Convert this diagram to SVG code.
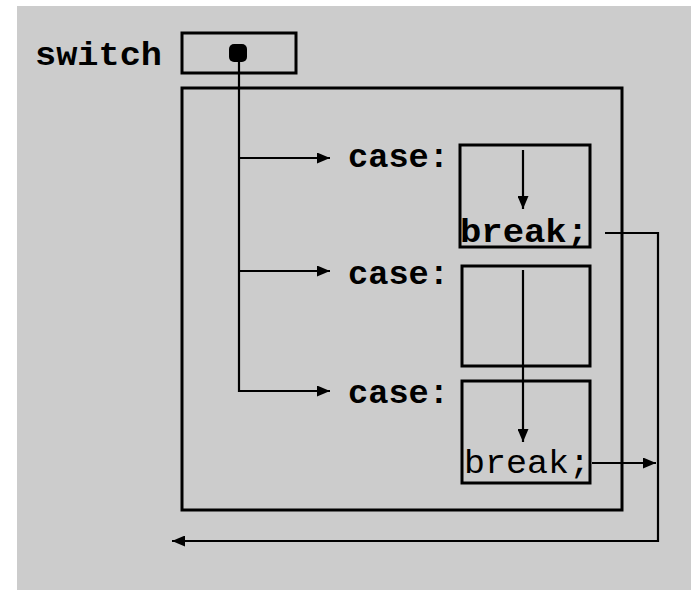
<svg xmlns="http://www.w3.org/2000/svg" width="691" height="590" viewBox="0 0 691 590">
<defs>
<style>
.box{fill:none;stroke:#000;stroke-width:3}
.ln{fill:none;stroke:#000;stroke-width:2.2}
.b{font-family:"Liberation Mono","Courier New",monospace;font-weight:bold;font-size:34px;fill:#000}
.r{font-family:"Liberation Mono","Courier New",monospace;font-size:34px;fill:#000}
</style>
<marker id="ah" viewBox="0 0 13 11" refX="13" refY="5.5" markerWidth="13" markerHeight="11" markerUnits="userSpaceOnUse" orient="auto">
<path d="M0,0 L13,5.5 L0,11 Z" fill="#000"/>
</marker>
</defs>
<rect width="691" height="590" fill="#fff"/>
<rect x="17" y="6" width="674" height="584" fill="#cccccc"/>
<g id="switch">
<text class="b" x="35" y="65" textLength="127" lengthAdjust="spacingAndGlyphs">switch</text>
<rect class="box" x="182" y="33" width="114" height="40"/>
<rect x="229" y="44" width="18" height="18" rx="5" fill="#000"/>
</g>
<g id="outer">
<rect class="box" x="182" y="88" width="440" height="422"/>
</g>
<g id="case1">
<text class="b" x="348" y="167" textLength="101" lengthAdjust="spacingAndGlyphs">case:</text>
<rect class="box" x="460" y="145" width="130" height="102"/>
<text class="b" x="460" y="242" textLength="128" lengthAdjust="spacingAndGlyphs">break;</text>
</g>
<g id="case2">
<text class="b" x="348" y="284" textLength="101" lengthAdjust="spacingAndGlyphs">case:</text>
<rect class="box" x="462" y="266" width="128" height="100"/>
</g>
<g id="case3">
<text class="b" x="348" y="403" textLength="101" lengthAdjust="spacingAndGlyphs">case:</text>
<rect class="box" x="462" y="381" width="128" height="102"/>
<text class="r" x="464" y="473" textLength="126" lengthAdjust="spacingAndGlyphs">break;</text>
</g>
<g id="connectors">
<path class="ln" d="M239,55 V391 H330" marker-end="url(#ah)"/>
<path class="ln" d="M239,158 H330" marker-end="url(#ah)"/>
<path class="ln" d="M239,271 H330" marker-end="url(#ah)"/>
<path class="ln" d="M523,150 V209" marker-end="url(#ah)"/>
<path class="ln" d="M523,270 V442" marker-end="url(#ah)"/>
<path class="ln" d="M592,463 H656" marker-end="url(#ah)"/>
<path class="ln" d="M605,233 H658 V541 H172" marker-end="url(#ah)"/>
</g>
</svg>
